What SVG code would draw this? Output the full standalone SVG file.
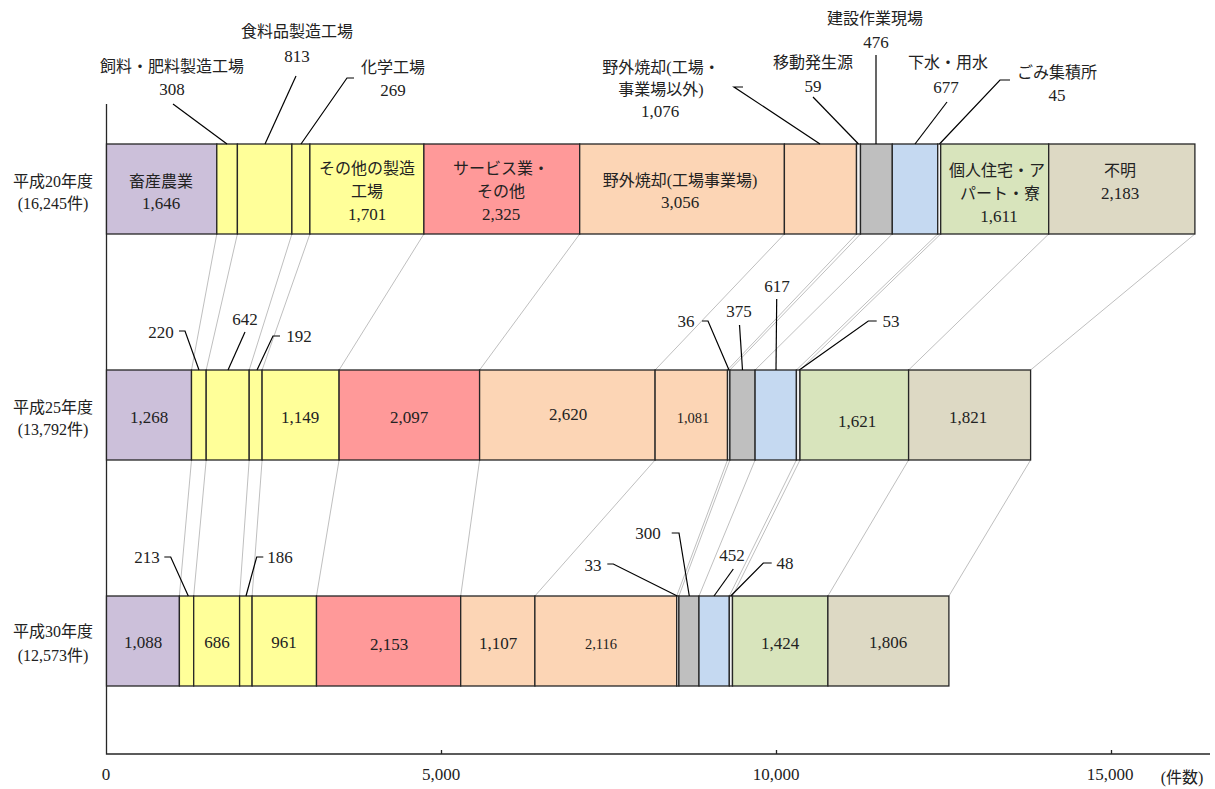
<svg xmlns="http://www.w3.org/2000/svg" width="1215" height="789" viewBox="0 0 1215 789">
<style>
text{font-family:"Liberation Serif","Noto Sans CJK JP",serif;font-size:16px;fill:#222;text-anchor:middle;dominant-baseline:central}
.n{font-size:17px}
.sm{font-size:14.5px}
.seg{stroke:#262626;stroke-width:1.3}
.c0{fill:#CCC0DA}.c1{fill:#FFFF99}.c5{fill:#FF9999}.c6{fill:#FCD5B5}.c8{fill:#F2F2F2}.c9{fill:#BFBFBF}.c10{fill:#C5D9F1}.c12{fill:#D8E4BC}.c13{fill:#DDD9C4}
.conn line{stroke:#BFBFBF;stroke-width:1}
.lead{fill:none;stroke:#000;stroke-width:1.2}
.axis{stroke:#262626;stroke-width:1.3;fill:none}
</style>
<rect width="1215" height="789" fill="#fff"/>

<g id="connectors" class="conn">
<line x1="216.8" y1="234" x2="191.5" y2="370"/><line x1="237.4" y1="234" x2="206.2" y2="370"/><line x1="291.9" y1="234" x2="249.2" y2="370"/><line x1="309.9" y1="234" x2="262.1" y2="370"/><line x1="423.9" y1="234" x2="339.1" y2="370"/><line x1="579.7" y1="234" x2="479.6" y2="370"/><line x1="784.4" y1="234" x2="655.1" y2="370"/><line x1="856.5" y1="234" x2="727.5" y2="370"/><line x1="860.5" y1="234" x2="729.9" y2="370"/><line x1="892.3" y1="234" x2="755.1" y2="370"/><line x1="937.7" y1="234" x2="796.4" y2="370"/><line x1="940.7" y1="234" x2="800" y2="370"/><line x1="1048.7" y1="234" x2="908.6" y2="370"/><line x1="1194.9" y1="234" x2="1030.6" y2="370"/>
<line x1="191.5" y1="460" x2="179.4" y2="596"/><line x1="206.2" y1="460" x2="193.7" y2="596"/><line x1="249.2" y1="460" x2="239.6" y2="596"/><line x1="262.1" y1="460" x2="252.1" y2="596"/><line x1="339.1" y1="460" x2="316.5" y2="596"/><line x1="479.6" y1="460" x2="460.7" y2="596"/><line x1="655.1" y1="460" x2="534.9" y2="596"/><line x1="727.5" y1="460" x2="676.7" y2="596"/><line x1="729.9" y1="460" x2="678.9" y2="596"/><line x1="755.1" y1="460" x2="699" y2="596"/><line x1="796.4" y1="460" x2="729.3" y2="596"/><line x1="800" y1="460" x2="732.5" y2="596"/><line x1="908.6" y1="460" x2="827.9" y2="596"/><line x1="1030.6" y1="460" x2="948.9" y2="596"/>
</g>

<g id="axes">
<polyline class="axis" points="106.5,104 106.5,754 1210,754"/>
<path class="axis" d="M441.5,750V754M776.5,750V754M1111.5,750V754"/>
<text class="n" x="106" y="774">0</text>
<text class="n" x="441" y="774">5,000</text>
<text class="n" x="776" y="774">10,000</text>
<text class="n" x="1110" y="774">15,000</text>
<text x="1182" y="777">(件数)</text>
</g>

<g id="row-labels">
<text x="53" y="181">平成20年度</text><text x="53" y="203">(16,245件)</text>
<text x="53" y="407">平成25年度</text><text x="53" y="429">(13,792件)</text>
<text x="53" y="631">平成30年度</text><text x="53" y="655">(12,573件)</text>
</g>

<g id="h20">
<g id="h20-chikusan"><rect class="seg c0" x="106.5" y="144" width="110.3" height="90"/><text x="161" y="181">畜産農業</text><text class="n" x="161" y="203">1,646</text></g>
<g id="h20-shiryo"><rect class="seg c1" x="216.8" y="144" width="20.6" height="90"/><polyline class="lead" points="173,104 227,144"/><text x="172" y="66">飼料・肥料製造工場</text><text class="n" x="172" y="89">308</text></g>
<g id="h20-shokuryo"><rect class="seg c1" x="237.4" y="144" width="54.5" height="90"/><polyline class="lead" points="296,76 265,144"/><text x="297" y="31">食料品製造工場</text><text class="n" x="297" y="56">813</text></g>
<g id="h20-kagaku"><rect class="seg c1" x="291.9" y="144" width="18" height="90"/><polyline class="lead" points="354,78 347,78 301,144"/><text x="393" y="67">化学工場</text><text class="n" x="393" y="90">269</text></g>
<g id="h20-sonota-seizo"><rect class="seg c1" x="309.9" y="144" width="114" height="90"/><text x="367" y="168">その他の製造</text><text x="367" y="191">工場</text><text class="n" x="367" y="214">1,701</text></g>
<g id="h20-service"><rect class="seg c5" x="423.9" y="144" width="155.8" height="90"/><text x="501" y="168">サービス業・</text><text x="501" y="191">その他</text><text class="n" x="501" y="214">2,325</text></g>
<g id="h20-yagai1"><rect class="seg c6" x="579.7" y="144" width="204.7" height="90"/><text x="680" y="180">野外焼却(工場事業場)</text><text class="n" x="680" y="202">3,056</text></g>
<g id="h20-yagai2"><rect class="seg c6" x="784.4" y="144" width="72.1" height="90"/><polyline class="lead" points="743,87 734,87 820,144"/><text x="661" y="67">野外焼却(工場・</text><text x="661" y="89">事業場以外)</text><text class="n" x="660" y="111">1,076</text></g>
<g id="h20-ido"><rect class="seg c8" x="856.5" y="144" width="4" height="90"/><polyline class="lead" points="813,97 858.5,144"/><text x="813" y="62">移動発生源</text><text class="n" x="813" y="86">59</text></g>
<g id="h20-kensetsu"><rect class="seg c9" x="860.5" y="144" width="31.8" height="90"/><polyline class="lead" points="876,55 876,144"/><text x="875" y="18">建設作業現場</text><text class="n" x="876" y="42">476</text></g>
<g id="h20-gesui"><rect class="seg c10" x="892.3" y="144" width="45.4" height="90"/><polyline class="lead" points="947,102 915,144"/><text x="948" y="62">下水・用水</text><text class="n" x="946" y="87">677</text></g>
<g id="h20-gomi"><rect class="seg c8" x="937.7" y="144" width="3" height="90"/><polyline class="lead" points="1010,80 1000,80 939.5,144"/><text x="1057" y="72">ごみ集積所</text><text class="n" x="1057" y="95">45</text></g>
<g id="h20-kojin"><rect class="seg c12" x="940.7" y="144" width="108" height="90"/><text x="997" y="170">個人住宅・ア</text><text x="1000" y="193">パート・寮</text><text class="n" x="999" y="216">1,611</text></g>
<g id="h20-fumei"><rect class="seg c13" x="1048.7" y="144" width="146.2" height="90"/><text x="1120" y="170">不明</text><text class="n" x="1120" y="193">2,183</text></g>
</g>

<g id="h25">
<g id="h25-chikusan"><rect class="seg c0" x="106.5" y="370" width="85" height="90"/><text class="n" x="149" y="417">1,268</text></g>
<g id="h25-shiryo"><rect class="seg c1" x="191.5" y="370" width="14.7" height="90"/><polyline class="lead" points="179,331 185,331 199,370"/><text class="n" x="161" y="332">220</text></g>
<g id="h25-shokuryo"><rect class="seg c1" x="206.2" y="370" width="43" height="90"/><polyline class="lead" points="245,332 228,370"/><text class="n" x="245" y="319">642</text></g>
<g id="h25-kagaku"><rect class="seg c1" x="249.2" y="370" width="12.9" height="90"/><polyline class="lead" points="280,336 273,336 257,370"/><text class="n" x="299" y="336">192</text></g>
<g id="h25-sonota-seizo"><rect class="seg c1" x="262.1" y="370" width="77" height="90"/><text class="n" x="300" y="417">1,149</text></g>
<g id="h25-service"><rect class="seg c5" x="339.1" y="370" width="140.5" height="90"/><text class="n" x="409" y="417">2,097</text></g>
<g id="h25-yagai1"><rect class="seg c6" x="479.6" y="370" width="175.5" height="90"/><text class="n" x="568" y="414">2,620</text></g>
<g id="h25-yagai2"><rect class="seg c6" x="655.1" y="370" width="72.4" height="90"/><text class="sm" x="693" y="418">1,081</text></g>
<g id="h25-ido"><rect class="seg c8" x="727.5" y="370" width="2.4" height="90"/><polyline class="lead" points="702,321 708,321 729,370"/><text class="n" x="686" y="321">36</text></g>
<g id="h25-kensetsu"><rect class="seg c9" x="729.9" y="370" width="25.2" height="90"/><polyline class="lead" points="739.5,325 742.5,370"/><text class="n" x="739" y="311">375</text></g>
<g id="h25-gesui"><rect class="seg c10" x="755.1" y="370" width="41.3" height="90"/><polyline class="lead" points="776.7,299 776,370"/><text class="n" x="777" y="286">617</text></g>
<g id="h25-gomi"><rect class="seg c8" x="796.4" y="370" width="3.6" height="90"/><polyline class="lead" points="876.7,321 868.3,321 799.3,370"/><text class="n" x="891" y="321">53</text></g>
<g id="h25-kojin"><rect class="seg c12" x="800" y="370" width="108.6" height="90"/><text class="n" x="857" y="421">1,621</text></g>
<g id="h25-fumei"><rect class="seg c13" x="908.6" y="370" width="122" height="90"/><text class="n" x="968" y="417">1,821</text></g>
</g>

<g id="h30">
<g id="h30-chikusan"><rect class="seg c0" x="106.5" y="596" width="72.9" height="90"/><text class="n" x="143" y="642">1,088</text></g>
<g id="h30-shiryo"><rect class="seg c1" x="179.4" y="596" width="14.3" height="90"/><polyline class="lead" points="164.3,557 170.7,557 188.3,596"/><text class="n" x="147" y="557">213</text></g>
<g id="h30-shokuryo"><rect class="seg c1" x="193.7" y="596" width="45.9" height="90"/><text class="n" x="217" y="642">686</text></g>
<g id="h30-kagaku"><rect class="seg c1" x="239.6" y="596" width="12.5" height="90"/><polyline class="lead" points="263.3,557 256.7,557 246,596"/><text class="n" x="280" y="557">186</text></g>
<g id="h30-sonota-seizo"><rect class="seg c1" x="252.1" y="596" width="64.4" height="90"/><text class="n" x="284" y="642">961</text></g>
<g id="h30-service"><rect class="seg c5" x="316.5" y="596" width="144.2" height="90"/><text class="n" x="389" y="644">2,153</text></g>
<g id="h30-yagai1"><rect class="seg c6" x="460.7" y="596" width="74.2" height="90"/><text class="n" x="498" y="643">1,107</text></g>
<g id="h30-yagai2"><rect class="seg c6" x="534.9" y="596" width="141.8" height="90"/><text class="sm" x="601" y="644">2,116</text></g>
<g id="h30-ido"><rect class="seg c8" x="676.7" y="596" width="2.2" height="90"/><polyline class="lead" points="607.3,564 613.3,564 677.3,596"/><text class="n" x="593" y="565">33</text></g>
<g id="h30-kensetsu"><rect class="seg c9" x="678.9" y="596" width="20.1" height="90"/><polyline class="lead" points="671.7,533 679,533 689.3,596"/><text class="n" x="648" y="533">300</text></g>
<g id="h30-gesui"><rect class="seg c10" x="699" y="596" width="30.3" height="90"/><polyline class="lead" points="733.3,569 714,596"/><text class="n" x="732" y="555">452</text></g>
<g id="h30-gomi"><rect class="seg c8" x="729.3" y="596" width="3.2" height="90"/><polyline class="lead" points="771.7,563 763.3,563 730.7,596"/><text class="n" x="785" y="563">48</text></g>
<g id="h30-kojin"><rect class="seg c12" x="732.5" y="596" width="95.4" height="90"/><text class="n" x="780" y="643">1,424</text></g>
<g id="h30-fumei"><rect class="seg c13" x="827.9" y="596" width="121" height="90"/><text class="n" x="888" y="642">1,806</text></g>
</g>
</svg>
